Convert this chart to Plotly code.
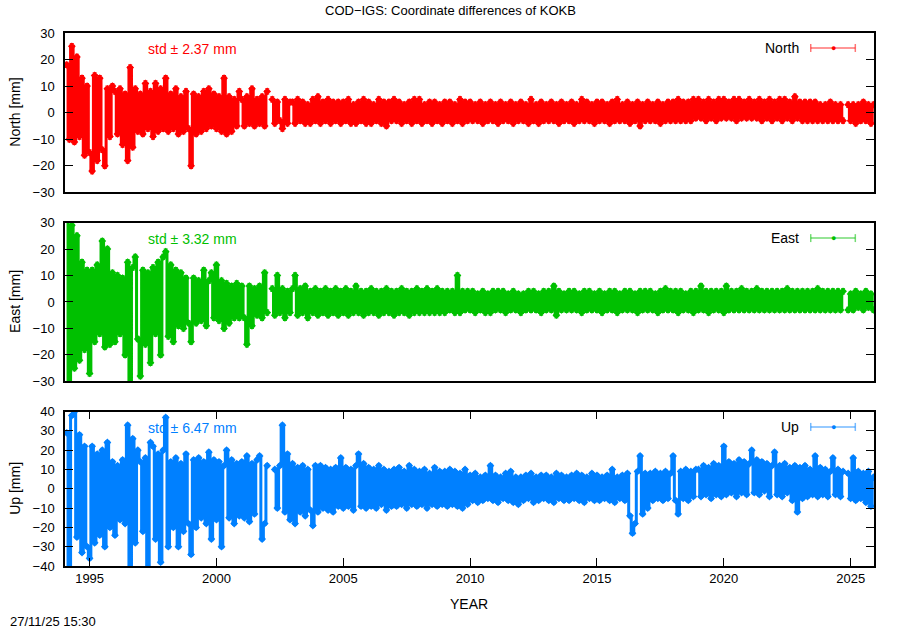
import plotly.graph_objects as go

# ---------------- data (mm), one row per year, values at Y.0 ... Y.9 ----------------
years = list(range(1994, 2026))

north_rows = [
    [None, 18, -10, 25, -11, 21, -9, 13, -16, 10],   # 1994
    [-15, -22, 14, -18, 13, -14, -20, 9, -9, 10],     # 1995
    [8, -8, 9, -12, 7, -18, 17, -13, 9, -7],          # 1996
    [7, -8, 11, -6, 8, -9, 11, -7, 9, -6],            # 1997
    [13, -7, 7, -6, 9, -8, 6, -7, 8, -6],             # 1998
    [-20, 7, -8, 6, -7, 8, -6, 9, -5, 7],             # 1999
    [-6, 6, -7, 13, -8, 6, -7, 5, -5, 8],             # 2000
    [5, -5, 6, -4, 9, -5, 5, -4, 6, -5],              # 2001
    [8, None, 5, -4, 4, -3, -6, 5, -4, 4],            # 2002
    [4, -4, 5, -3, 4, -4, 3, -4, 5, -3],              # 2003
    [6, -4, 4, -3, 5, -4, 4, -3, 4, -4],              # 2004
    [4, -3, 5, -4, 3, -4, 4, -3, 5, -4],              # 2005
    [4, -4, 3, -3, 5, -4, 4, -5, 4, -3],              # 2006
    [5, -3, 4, -4, 3, -3, 4, -4, 5, -3],              # 2007
    [5, -4, 3, -3, 4, -4, 4, -3, 3, -4],              # 2008
    [4, -3, 4, -4, 3, -3, 5, -4, 4, -3],              # 2009
    [4, -3, 3, -3, 4, -4, 3, -3, 4, -3],              # 2010
    [3, -4, 4, -3, 3, -3, 4, -4, 3, -3],              # 2011
    [4, -3, 3, -4, 5, -3, 3, -4, 4, -3],              # 2012
    [3, -3, 4, -3, 3, -4, 4, -3, 3, -3],              # 2013
    [4, -4, 3, -3, 5, -3, 4, -3, 3, -4],              # 2014
    [4, -3, 4, -3, 3, -4, 4, -3, 5, -3],              # 2015
    [3, -3, 4, -4, 3, -3, 4, -5, 3, -3],              # 2016
    [4, -3, 3, -3, 4, -4, 3, -3, 4, -3],              # 2017
    [4, -3, 5, -3, 4, -3, 4, -3, 5, -2],              # 2018
    [5, -2, 4, -3, 5, -2, 4, -3, 5, -2],              # 2019
    [5, -2, 4, -2, 5, -3, 5, -2, 4, -2],              # 2020
    [5, -2, 4, -2, 5, -3, 4, -2, 5, -3],              # 2021
    [4, -2, 5, -3, 5, -2, 4, -3, 6, -2],              # 2022
    [4, -3, 4, -3, 4, -3, 4, -3, 3, -3],              # 2023
    [3, -3, 4, -3, 3, -3, 3, -3, None, 3],            # 2024
    [-3, 3, -4, 3, -3, 4, -3, 3, -4, 3],              # 2025
]

east_rows = [
    [None, 32, -32, 29, -25, 25, -22, 15, -18, 12],   # 1994
    [-27, 12, -15, 14, -12, 23, -17, 20, -16, 11],    # 1995
    [-15, 10, -12, 9, -20, 15, -32, 13, 17, -14],     # 1996
    [-28, 12, -16, 11, -23, 13, -12, 15, -20, 17],    # 1997
    [19, -13, 14, -15, 12, -9, 11, -10, 9, -8],       # 1998
    [-15, 9, -8, 8, -7, 12, -9, 8, 11, -6],           # 1999
    [14, -7, 8, -10, 7, -8, 6, -6, 7, -6],            # 2000
    [6, -6, -16, 6, -9, 5, -5, 6, -6, 11],            # 2001
    [-4, None, 5, -5, 10, -4, 5, -6, 4, -4],          # 2002
    [5, 10, -5, 5, -4, 6, -6, 4, -4, 5],              # 2003
    [-5, 4, -4, 5, -5, 4, -4, 5, -5, 4],              # 2004
    [-4, 5, -5, 4, -4, 6, -4, 4, -5, 4],              # 2005
    [-4, 5, -4, 4, -5, 4, -4, 5, -4, 4],              # 2006
    [-5, 4, -4, 5, -4, 4, -5, 4, -4, 5],              # 2007
    [-4, 4, -4, 5, -4, 4, -4, 5, -4, 4],              # 2008
    [-4, 4, -3, 4, -4, 10, -4, 4, -3, 4],             # 2009
    [-3, 4, -4, 3, -3, 4, -4, 3, -4, 4],              # 2010
    [-3, 4, -3, 4, -4, 3, -3, 4, -3, 3],              # 2011
    [-4, 3, -3, 4, -3, 4, -3, 3, -4, 4],              # 2012
    [-3, 4, -3, 6, -5, 4, -3, 3, -3, 4],              # 2013
    [-3, 4, -3, 3, -4, 4, -3, 4, -3, 3],              # 2014
    [-3, 4, -4, 3, -3, 4, -3, 4, -4, 3],              # 2015
    [-3, 4, -3, 4, -3, 3, -4, 4, -3, 4],              # 2016
    [-3, 4, -3, 3, -4, 4, -3, 5, -3, 4],              # 2017
    [-3, 4, -4, 4, -3, 3, -3, 4, -4, 4],              # 2018
    [-3, 6, -3, 4, -4, 4, -3, 4, -3, 4],              # 2019
    [-4, 6, -3, 4, -3, 4, -3, 5, -3, 4],              # 2020
    [-3, 4, -3, 5, -3, 4, -3, 4, -3, 4],              # 2021
    [-3, 4, -3, 4, -3, 5, -3, 4, -3, 4],              # 2022
    [-3, 4, -3, 4, -3, 4, -3, 5, -3, 4],              # 2023
    [-3, 4, -3, 4, -3, 4, -3, 4, None, -3],           # 2024
    [3, -3, 4, -2, 3, -3, 4, -2, 3, -3],              # 2025
]

up_rows = [
    [None, 29, -42, 38, 40, -25, 28, -33, 22, -30],   # 1994
    [-36, 22, -28, 18, -24, 20, -30, 24, -20, 14],    # 1995
    [-24, 12, -16, 15, -18, 33, -42, 26, -28, 20],    # 1996
    [14, -22, 16, -42, 24, 22, -26, 18, -38, 20],     # 1997
    [37, -30, 14, -20, 16, -30, 13, -22, 18, -18],    # 1998
    [-34, 15, -20, 16, -15, 14, -18, 19, -26, 15],    # 1999
    [-16, 14, -30, 12, 20, -15, 15, -18, 13, -14],    # 2000
    [14, -15, 17, -17, 13, -13, 15, 17, -26, -18],    # 2001
    [12, None, None, 10, -10, 12, 33, -12, 18, -16],  # 2002
    [13, -18, 11, -12, 12, -14, 10, -11, -19, 12],    # 2003
    [-12, 12, -10, 11, -11, 10, -12, 11, -9, 16],     # 2004
    [-10, 11, -9, 10, -11, 12, 18, -9, 13, -10],      # 2005
    [11, -9, 10, -10, 12, -8, 10, -11, 9, -9],        # 2006
    [10, -9, 11, -8, 9, -10, 12, -8, 10, -9],         # 2007
    [9, -8, 10, -10, 8, -8, 11, -9, 9, -8],           # 2008
    [9, -9, 10, -8, 9, -9, 8, -10, 10, -8],           # 2009
    [7, -6, 8, -7, 6, -6, 7, -5, 12, -6],             # 2010
    [7, -7, 6, -5, 8, -6, 9, -7, 6, -8],              # 2011
    [6, -6, 7, -5, 8, -7, 6, -6, 7, -5],              # 2012
    [7, -6, 6, -7, 8, -5, 7, -6, 6, -6],              # 2013
    [7, -5, 8, -6, 7, -7, 6, -5, 8, -6],              # 2014
    [7, -6, 6, -5, 7, -6, 10, -7, 6, -5],             # 2015
    [7, -6, 8, -14, -23, -18, 9, 17, -13, 8],         # 2016
    [-10, 8, -6, 9, -5, 8, -6, 9, -5, 8],             # 2017
    [17, -6, -13, 9, -5, 10, -6, 9, -4, 10],          # 2018
    [10, -4, 12, -3, 11, -5, 13, -3, 12, -4],         # 2019
    [22, -3, 14, -2, 13, -4, 15, -2, 14, -3],         # 2020
    [13, 20, -2, 15, -3, 14, -1, 13, -4, 12],         # 2021
    [19, -3, 12, -4, 13, -2, 11, -6, 12, -12],        # 2022
    [11, -5, 12, -4, 10, -3, 17, -4, 11, -3],         # 2023
    [10, -4, 9, 16, -3, 10, -4, 9, None, 8],          # 2024
    [-5, 16, -6, 9, -5, 8, -7, 9, -9, 6],             # 2025
]

SIGMA = 1.0  # typical formal error (mm)

series_names = ["North", "East", "Up"]
std_labels = ["std \u00b1 2.37 mm", "std \u00b1 3.32 mm", "std \u00b1 6.47 mm"]
y_ranges = [[-30, 30], [-30, 30], [-40, 40]]
x_ticks = [1995, 2000, 2005, 2010, 2015, 2020, 2025]
title_text = "COD\u2212IGS: Coordinate differences of KOKB"
date_text = "27/11/25 15:30"

# ---------------- build ----------------
t = [round(y + k / 10, 1) for y in years for k in range(10)]


def flat(rows):
    return [v for r in rows for v in r]


values = [flat(north_rows), flat(east_rows), flat(up_rows)]
colors = ["#ff0000", "#00c000", "#0080ff"]
light = ["rgba(255,0,0,0.55)", "rgba(0,192,0,0.55)", "rgba(0,128,255,0.55)"]

FONT = "Liberation Sans, Arial, sans-serif"
domains = [[0.701, 1.0], [0.3464, 0.6444], [0.0, 0.2896]]

fig = go.Figure()
for i in range(3):
    ax = "" if i == 0 else str(i + 1)
    fig.add_trace(go.Scatter(
        x=t, y=values[i], mode="lines+markers", name=series_names[i],
        xaxis="x" + ax, yaxis="y" + ax, showlegend=False,
        line=dict(color=colors[i], width=3.0, shape="hvh", simplify=False),
        marker=dict(symbol="diamond", size=6, color=colors[i]),
        error_y=dict(type="constant", value=SIGMA, color=colors[i], thickness=1, width=2),
        connectgaps=False,
    ))

layout = dict(
    width=900, height=630,
    margin=dict(l=65, r=26, t=33, b=63.5),
    paper_bgcolor="white", plot_bgcolor="white",
    font=dict(family=FONT, size=13, color="black"),
    showlegend=False,
)
for i in range(3):
    ax = "" if i == 0 else str(i + 1)
    bottom = (i == 2)
    layout["xaxis" + ax] = dict(
        domain=[0, 1], range=[1994.03, 2025.92], anchor="y" + ax,
        showline=True, linecolor="black", linewidth=1.5,
        mirror="ticks" if bottom else True,
        ticks="inside" if bottom else "", ticklen=8, tickcolor="black",
        tickmode="array", tickvals=x_ticks if bottom else [],
        ticktext=[str(v) for v in x_ticks] if bottom else [],
        showticklabels=bottom, showgrid=False, zeroline=False,
        tickfont=dict(size=13),
    )
    if i > 0:
        layout["xaxis" + ax]["matches"] = "x"
    layout["yaxis" + ax] = dict(
        domain=domains[i], range=y_ranges[i], anchor="x" + ax,
        showline=True, linecolor="black", linewidth=1.5, mirror="ticks",
        ticks="inside", ticklen=8, tickcolor="black", dtick=10,
        showgrid=False, zeroline=False, tickfont=dict(size=13),
        ticklabelstandoff=6,
    )
fig.update_layout(**layout)

ann = []
shapes = []
ylab = ["North [mm]", "East [mm]", "Up [mm]"]
leg_y = [0.906, 0.902, 0.901]
std_y = [0.8995, 0.8956, 0.892]
cap = [0.025, 0.025, 0.026]
for i in range(3):
    ax = "" if i == 0 else str(i + 1)
    xd, yd = "x" + ax + " domain", "y" + ax + " domain"
    d0, d1 = domains[i]
    ann.append(dict(text=ylab[i], x=-0.0618, y=(d0 + d1) / 2, xref="paper", yref="paper",
                    textangle=-90, showarrow=False, xanchor="center", yanchor="middle",
                    font=dict(size=14)))
    ann.append(dict(text=std_labels[i], x=0.1574, y=std_y[i], xref=xd, yref=yd,
                    showarrow=False, xanchor="center", yanchor="middle",
                    font=dict(size=14, color=colors[i])))
    ann.append(dict(text=series_names[i], x=0.9095, y=leg_y[i], xref=xd, yref=yd,
                    showarrow=False, xanchor="right", yanchor="middle",
                    font=dict(size=14, color="black")))
    # legend key: horizontal error-bar symbol
    x0, x1 = 0.9218, 0.9769
    shapes.append(dict(type="line", xref=xd, yref=yd, x0=x0, x1=x1, y0=leg_y[i], y1=leg_y[i],
                       line=dict(color=light[i], width=1.5)))
    for xc in (x0, x1):
        shapes.append(dict(type="line", xref=xd, yref=yd, x0=xc, x1=xc,
                           y0=leg_y[i] - cap[i], y1=leg_y[i] + cap[i],
                           line=dict(color=light[i], width=1.5)))
    ann.append(dict(text="\u25cf", x=(x0 + x1) / 2, y=leg_y[i], xref=xd, yref=yd,
                    showarrow=False, xanchor="center", yanchor="middle",
                    font=dict(size=9, color=colors[i])))

ann.append(dict(text=title_text, x=0.476, y=1.043, xref="paper", yref="paper",
                showarrow=False, xanchor="center", yanchor="middle", font=dict(size=13)))
ann.append(dict(text="YEAR", x=0.4995, y=-0.0722, xref="paper", yref="paper",
                showarrow=False, xanchor="center", yanchor="middle", font=dict(size=14)))
ann.append(dict(text=date_text, x=-0.0705, y=-0.104, xref="paper", yref="paper",
                showarrow=False, xanchor="left", yanchor="middle", font=dict(size=13)))

fig.update_layout(annotations=ann, shapes=shapes)
fig.write_html("out.html", config={"displayModeBar": False},
               post_script="document.body.style.margin='0px';")
